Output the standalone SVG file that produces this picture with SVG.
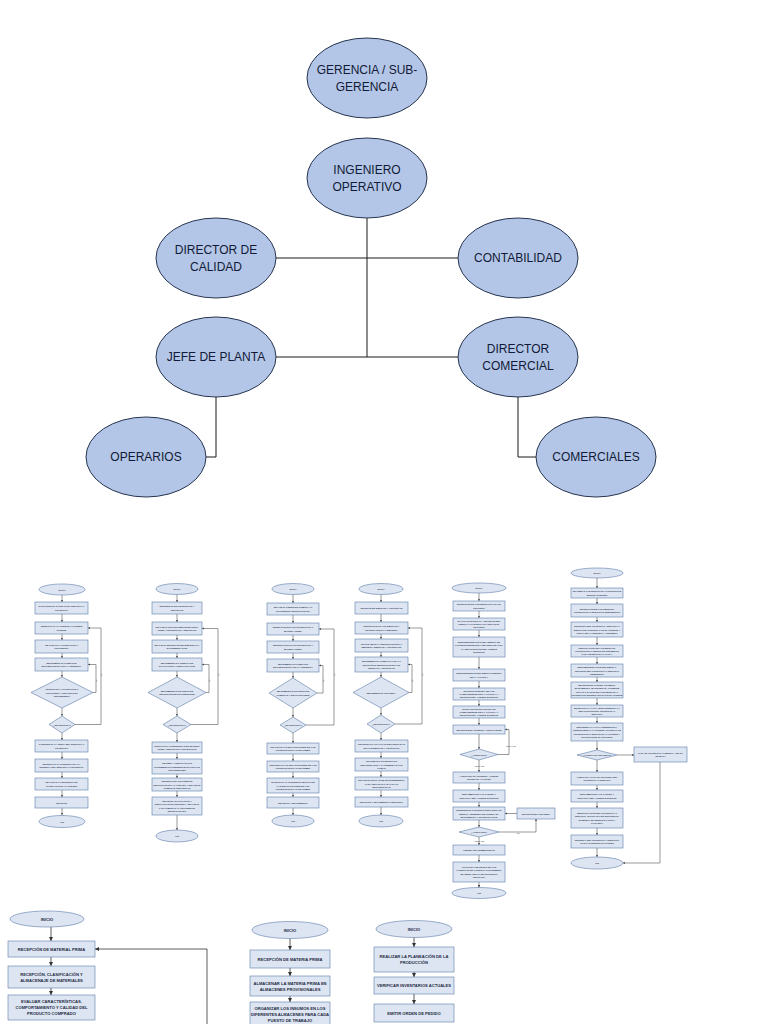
<svg xmlns="http://www.w3.org/2000/svg" width="768" height="1024" viewBox="0 0 768 1024">
<style>
.oe{fill:#b4c6e7;stroke:#26344f;stroke-width:1}
.ot{font-family:"Liberation Sans",Arial,sans-serif;font-size:12px;fill:#111a36;text-anchor:middle;dominant-baseline:central}
.ol{fill:none;stroke:#1a1a1a;stroke-width:1}
.b{fill:#dce5f1;stroke:#5d7aa8;stroke-width:0.6}
.e{fill:#dce5f1;stroke:#5d7aa8;stroke-width:0.6}
.ft{font-family:"Liberation Sans",Arial,sans-serif;font-size:2.3px;font-weight:bold;fill:#2a3550;text-anchor:middle;dominant-baseline:central}
.lt{font-family:"Liberation Sans",Arial,sans-serif;font-size:2px;fill:#444;text-anchor:middle;dominant-baseline:central}
.bt{font-family:"Liberation Sans",Arial,sans-serif;font-size:4.1px;font-weight:bold;fill:#1f2a44;text-anchor:middle;dominant-baseline:central}
.c{fill:none;stroke:#555;stroke-width:0.6}
.cb{fill:none;stroke:#333;stroke-width:0.8}
</style>
<defs>
<marker id="a" viewBox="0 0 6 6" refX="6" refY="3" markerWidth="2.4" markerHeight="2.4" markerUnits="userSpaceOnUse" orient="auto"><path d="M0,0 L6,3 L0,6 z" fill="#444"/></marker>
<marker id="a2" viewBox="0 0 6 6" refX="6" refY="3" markerWidth="4" markerHeight="4" markerUnits="userSpaceOnUse" orient="auto"><path d="M0,0 L6,3 L0,6 z" fill="#333"/></marker>
</defs>
<rect width="768" height="1024" fill="#ffffff"/>

<!-- ORG CHART connectors -->
<g id="org-connectors">
<path class="ol" d="M367,218 V357"/>
<path class="ol" d="M276,258 H458"/>
<path class="ol" d="M276,357 H458"/>
<path class="ol" d="M216,397 V457 H206"/>
<path class="ol" d="M518,397 V457 H536"/>
</g>
<g id="gerencia"><ellipse class="oe" cx="367" cy="78" rx="60" ry="40"/><text class="ot" x="367" y="70">GERENCIA / SUB-</text><text class="ot" x="367" y="87">GERENCIA</text></g>
<g id="ingeniero"><ellipse class="oe" cx="367" cy="178" rx="60" ry="40"/><text class="ot" x="367" y="170">INGENIERO</text><text class="ot" x="367" y="187">OPERATIVO</text></g>
<g id="calidad"><ellipse class="oe" cx="216" cy="258" rx="60" ry="40"/><text class="ot" x="216" y="250">DIRECTOR DE</text><text class="ot" x="216" y="267">CALIDAD</text></g>
<g id="contabilidad"><ellipse class="oe" cx="518" cy="258" rx="60" ry="40"/><text class="ot" x="518" y="258">CONTABILIDAD</text></g>
<g id="jefe"><ellipse class="oe" cx="216" cy="357" rx="60" ry="40"/><text class="ot" x="216" y="357">JEFE DE PLANTA</text></g>
<g id="comercial"><ellipse class="oe" cx="518" cy="357" rx="60" ry="40"/><text class="ot" x="518" y="349">DIRECTOR</text><text class="ot" x="518" y="366">COMERCIAL</text></g>
<g id="operarios"><ellipse class="oe" cx="146" cy="457" rx="60" ry="40"/><text class="ot" x="146" y="457">OPERARIOS</text></g>
<g id="comerciales"><ellipse class="oe" cx="596" cy="457" rx="60" ry="40"/><text class="ot" x="596" y="457">COMERCIALES</text></g>

<!-- FLOWCHART 1 -->
<g id="f1-connectors">
<path class="c" marker-end="url(#a)" d="M62,595 V602"/>
<path class="c" marker-end="url(#a)" d="M62,614 V622"/>
<path class="c" marker-end="url(#a)" d="M62,634 V640"/>
<path class="c" marker-end="url(#a)" d="M62,653 V658"/>
<path class="c" marker-end="url(#a)" d="M62,671 V677"/>
<path class="c" marker-end="url(#a)" d="M62,708 V716"/>
<path class="c" marker-end="url(#a)" d="M62,733 V740"/>
<path class="c" marker-end="url(#a)" d="M62,752 V759"/>
<path class="c" marker-end="url(#a)" d="M62,772 V778"/>
<path class="c" marker-end="url(#a)" d="M62,790 V797"/>
<path class="c" marker-end="url(#a)" d="M62,808 V815"/>
<path class="c" marker-end="url(#a)" d="M93,692.5 H96 V664.5 H88"/>
<path class="c" marker-end="url(#a)" d="M75,724.5 H101 V628 H88"/>
<text class="lt" x="96" y="681" transform="rotate(-90 96 681)">NO</text>
<text class="lt" x="101" y="675" transform="rotate(-90 101 675)">NO</text>
</g>
<g id="f1-inicio"><ellipse class="e" cx="62" cy="589.5" rx="23" ry="5.5"/><text class="ft" x="62" y="589.5">INICIO</text></g>
<g id="f1-n1"><rect class="b" x="35" y="602" width="53" height="12"/><text class="ft" x="61.5" y="606.45">SOLICITUD DE COTIZACIÓN, SERVICIO O</text><text class="ft" x="61.5" y="609.55">PRODUCTO</text></g>
<g id="f1-n2"><rect class="b" x="35" y="622" width="53" height="12"/><text class="ft" x="61.5" y="626.45">IDENTIFICAR AL CLIENTE O POSIBLE</text><text class="ft" x="61.5" y="629.55">CLIENTE</text></g>
<g id="f1-n3"><rect class="b" x="35" y="640" width="53" height="13"/><text class="ft" x="61.5" y="644.95">REALIZAR LA COTIZACIÓN O</text><text class="ft" x="61.5" y="648.05">PROPUESTA</text></g>
<g id="f1-n4"><rect class="b" x="35" y="658" width="53" height="13"/><text class="ft" x="61.5" y="662.95">IMPLEMENTAR FORMATOS</text><text class="ft" x="61.5" y="666.05">ESTABLECIDOS POR LA GERENCIA</text></g>
<g id="f1-d1"><polygon class="b" points="62,677 93,692.5 62,708 31,692.5"/><text class="ft" x="62" y="689.4">VERIFICAR LA COTIZACIÓN O</text><text class="ft" x="62" y="692.5">PROPUESTA Y REALIZAR EL</text><text class="ft" x="62" y="695.6">SEGUIMIENTO</text></g>
<g id="f1-d2"><polygon class="b" points="62,716 75,724.5 62,733 49,724.5"/><text class="ft" x="62" y="724.5">¿SE EFECTÚA?</text></g>
<g id="f1-n5"><rect class="b" x="35" y="740" width="53" height="12"/><text class="ft" x="61.5" y="744.45">CONCRETAR LA VENTA DEL SERVICIO O</text><text class="ft" x="61.5" y="747.55">PRODUCTO</text></g>
<g id="f1-n6"><rect class="b" x="35" y="759" width="53" height="13"/><text class="ft" x="61.5" y="763.95">ENTREGAR AL CLIENTE PARA LA</text><text class="ft" x="61.5" y="767.05">ENTREGA DEL SERVICIO O PRODUCTO</text></g>
<g id="f1-n7"><rect class="b" x="35" y="778" width="53" height="12"/><text class="ft" x="61.5" y="782.45">REALIZAR LA ENCUESTA DE</text><text class="ft" x="61.5" y="785.55">SATISFACCIÓN AL CLIENTE</text></g>
<g id="f1-n8"><rect class="b" x="35" y="797" width="53" height="11"/><text class="ft" x="61.5" y="802.5">REVISIÓN</text></g>
<g id="f1-fin"><ellipse class="e" cx="62" cy="821.5" rx="23" ry="6"/><text class="ft" x="62" y="821.5">FIN</text></g>

<!-- FLOWCHART 2 -->
<g id="f2-connectors">
<path class="c" marker-end="url(#a)" d="M177,594.5 V602"/>
<path class="c" marker-end="url(#a)" d="M177,614 V622"/>
<path class="c" marker-end="url(#a)" d="M177,635 V640"/>
<path class="c" marker-end="url(#a)" d="M177,653 V658"/>
<path class="c" marker-end="url(#a)" d="M177,671 V677"/>
<path class="c" marker-end="url(#a)" d="M177,708 V716"/>
<path class="c" marker-end="url(#a)" d="M177,733 V742"/>
<path class="c" marker-end="url(#a)" d="M177,753 V759"/>
<path class="c" marker-end="url(#a)" d="M177,774 V778"/>
<path class="c" marker-end="url(#a)" d="M177,791 V797"/>
<path class="c" marker-end="url(#a)" d="M177,815 V830"/>
<path class="c" marker-end="url(#a)" d="M206,692.5 H209 V664.5 H202"/>
<path class="c" marker-end="url(#a)" d="M191,724.5 H218 V628.5 H202"/>
<text class="lt" x="209" y="681" transform="rotate(-90 209 681)">NO</text>
<text class="lt" x="218" y="675" transform="rotate(-90 218 675)">NO</text>
</g>
<g id="f2-inicio"><ellipse class="e" cx="177" cy="589" rx="21" ry="5.5"/><text class="ft" x="177" y="589">INICIO</text></g>
<g id="f2-n1"><rect class="b" x="152" y="602" width="50" height="12"/><text class="ft" x="177" y="606.45">NECESIDAD DE PRODUCTOS Y</text><text class="ft" x="177" y="609.55">SERVICIOS</text></g>
<g id="f2-n2"><rect class="b" x="152" y="622" width="50" height="13"/><text class="ft" x="177" y="626.95">REALIZAR PROVISIONES DE MATERIA</text><text class="ft" x="177" y="630.05">PRIMA, PRODUCTOS Y SERVICIOS</text></g>
<g id="f2-n3"><rect class="b" x="152" y="640" width="50" height="13"/><text class="ft" x="177" y="644.95">REALIZAR SELECCIÓN DE MUESTRAS Y</text><text class="ft" x="177" y="648.05">DOCUMENTACIÓN</text></g>
<g id="f2-n4"><rect class="b" x="152" y="658" width="50" height="13"/><text class="ft" x="177" y="662.95">IMPLEMENTAR FORMATO DE</text><text class="ft" x="177" y="666.05">EVALUACIÓN Y REEVALUACIÓN</text></g>
<g id="f2-d1"><polygon class="b" points="177,677 206,692.5 177,708 148,692.5"/><text class="ft" x="177" y="690.95">IMPLEMENTAR PROCESO DE</text><text class="ft" x="177" y="694.05">SELECCIÓN DE PROVEEDORES</text></g>
<g id="f2-d2"><polygon class="b" points="177,716 191,724.5 177,733 163,724.5"/><text class="ft" x="177" y="724.5">¿SE EFECTÚA?</text></g>
<g id="f2-n5"><rect class="b" x="152" y="742" width="50" height="11"/><text class="ft" x="177" y="745.95">VERIFICAR LAS MUESTRAS DE MATERIA</text><text class="ft" x="177" y="749.05">PRIMA, SERVICIOS O PRODUCTOS</text></g>
<g id="f2-n6"><rect class="b" x="152" y="759" width="50" height="15"/><text class="ft" x="177" y="763.4">RECIBIR Y VERIFICAR LOS</text><text class="ft" x="177" y="766.5">DOCUMENTOS PRESENTADOS POR LOS</text><text class="ft" x="177" y="769.6">PROVEEDORES</text></g>
<g id="f2-n7"><rect class="b" x="152" y="778" width="50" height="13"/><text class="ft" x="177" y="781.4">INGRESAR EL PROVEEDOR</text><text class="ft" x="177" y="784.5">SELECCIONADO AL LISTADO Y REALIZAR</text><text class="ft" x="177" y="787.6">COMPRAS PERIÓDICAS</text></g>
<g id="f2-n8"><rect class="b" x="152" y="797" width="50" height="18"/><text class="ft" x="177" y="801.35">REVISIÓN, EVALUACIÓN Y</text><text class="ft" x="177" y="804.45">REEVALUACIÓN PERIÓDICA, REALIZAR</text><text class="ft" x="177" y="807.55">LAS COMPRAS AL PROVEEDOR</text><text class="ft" x="177" y="810.65">SELECCIONADO</text></g>
<g id="f2-fin"><ellipse class="e" cx="177" cy="836" rx="21" ry="6"/><text class="ft" x="177" y="836">FIN</text></g>

<!-- FLOWCHART 3 -->
<g id="f3-connectors">
<path class="c" marker-end="url(#a)" d="M293,594.5 V603"/>
<path class="c" marker-end="url(#a)" d="M293,615 V623"/>
<path class="c" marker-end="url(#a)" d="M293,635 V641"/>
<path class="c" marker-end="url(#a)" d="M293,653 V659"/>
<path class="c" marker-end="url(#a)" d="M293,672 V678"/>
<path class="c" marker-end="url(#a)" d="M293,708 V717"/>
<path class="c" marker-end="url(#a)" d="M293,733 V743"/>
<path class="c" marker-end="url(#a)" d="M293,754 V761"/>
<path class="c" marker-end="url(#a)" d="M293,772 V778"/>
<path class="c" marker-end="url(#a)" d="M293,793 V797"/>
<path class="c" marker-end="url(#a)" d="M293,808 V815"/>
<path class="c" marker-end="url(#a)" d="M317,693 H323 V665.5 H319"/>
<path class="c" marker-end="url(#a)" d="M306,725 H334 V629 H319"/>
<text class="lt" x="323" y="681" transform="rotate(-90 323 681)">NO</text>
<text class="lt" x="334" y="675" transform="rotate(-90 334 675)">NO</text>
</g>
<g id="f3-inicio"><ellipse class="e" cx="293" cy="589" rx="21" ry="5.5"/><text class="ft" x="293" y="589">INICIO</text></g>
<g id="f3-n1"><rect class="b" x="267" y="603" width="52" height="12"/><text class="ft" x="293" y="607.45">REALIZAR ORDEN DE COMPRA AL</text><text class="ft" x="293" y="610.55">PROVEEDOR SELECCIONADO</text></g>
<g id="f3-n2"><rect class="b" x="267" y="623" width="52" height="12"/><text class="ft" x="293" y="627.45">RECEPCIÓN DE LOS PRODUCTOS O</text><text class="ft" x="293" y="630.55">MATERIA PRIMA</text></g>
<g id="f3-n3"><rect class="b" x="267" y="641" width="52" height="12"/><text class="ft" x="293" y="645.45">INSPECCIONAR LOS PRODUCTOS Y</text><text class="ft" x="293" y="648.55">MATERIA PRIMA</text></g>
<g id="f3-n4"><rect class="b" x="267" y="659" width="52" height="13"/><text class="ft" x="293" y="663.95">IMPLEMENTAR FORMATOS</text><text class="ft" x="293" y="667.05">ESTABLECIDOS POR LA GERENCIA</text></g>
<g id="f3-d1"><polygon class="b" points="293,678 317,693 293,708 269,693"/><text class="ft" x="293" y="691.45">IMPLEMENTAR PROCESO DE</text><text class="ft" x="293" y="694.55">COMPRAS Y DEVOLUCIONES</text></g>
<g id="f3-d2"><polygon class="b" points="293,717 306,725 293,733 280,725"/><text class="ft" x="293" y="725">¿SE EFECTÚA?</text></g>
<g id="f3-n5"><rect class="b" x="267" y="743" width="52" height="11"/><text class="ft" x="293" y="746.95">REALIZAR LAS DEVOLUCIONES DE LOS</text><text class="ft" x="293" y="750.05">PRODUCTOS NO CONFORMES</text></g>
<g id="f3-n6"><rect class="b" x="267" y="761" width="52" height="11"/><text class="ft" x="293" y="764.95">REGISTRAR LAS DEVOLUCIONES DE LOS</text><text class="ft" x="293" y="768.05">PRODUCTOS NO CONFORMES</text></g>
<g id="f3-n7"><rect class="b" x="267" y="778" width="52" height="15"/><text class="ft" x="293" y="782.4">NOTIFICAR AL CLIENTE EL MOTIVO DE</text><text class="ft" x="293" y="785.5">LAS DEVOLUCIONES DE LOS</text><text class="ft" x="293" y="788.6">PRODUCTOS NO CONFORMES</text></g>
<g id="f3-n8"><rect class="b" x="267" y="797" width="52" height="11"/><text class="ft" x="293" y="802.5">REVISIÓN Y SEGUIMIENTO</text></g>
<g id="f3-fin"><ellipse class="e" cx="293" cy="821" rx="21" ry="6"/><text class="ft" x="293" y="821">FIN</text></g>

<!-- FLOWCHART 4 -->
<g id="f4-connectors">
<path class="c" marker-end="url(#a)" d="M381,594.5 V602"/>
<path class="c" marker-end="url(#a)" d="M381,614 V622"/>
<path class="c" marker-end="url(#a)" d="M381,634 V639"/>
<path class="c" marker-end="url(#a)" d="M381,652 V657"/>
<path class="c" marker-end="url(#a)" d="M381,672 V677"/>
<path class="c" marker-end="url(#a)" d="M381,708 V715"/>
<path class="c" marker-end="url(#a)" d="M381,733 V740"/>
<path class="c" marker-end="url(#a)" d="M381,752 V758"/>
<path class="c" marker-end="url(#a)" d="M381,771 V777"/>
<path class="c" marker-end="url(#a)" d="M381,790 V797"/>
<path class="c" marker-end="url(#a)" d="M381,807 V815"/>
<path class="c" marker-end="url(#a)" d="M409,692.5 H412 V664.5 H408"/>
<path class="c" marker-end="url(#a)" d="M395,724 H422 V628 H408"/>
<text class="lt" x="412" y="681" transform="rotate(-90 412 681)">NO</text>
<text class="lt" x="422" y="675" transform="rotate(-90 422 675)">NO</text>
</g>
<g id="f4-inicio"><ellipse class="e" cx="381" cy="589" rx="22" ry="5.5"/><text class="ft" x="381" y="589">INICIO</text></g>
<g id="f4-n1"><rect class="b" x="355" y="602" width="53" height="12"/><text class="ft" x="381.5" y="608">REVISIÓN DE EQUIPOS Y VEHÍCULOS</text></g>
<g id="f4-n2"><rect class="b" x="355" y="622" width="53" height="12"/><text class="ft" x="381.5" y="626.45">INSPECCIONAR LOS EQUIPOS Y</text><text class="ft" x="381.5" y="629.55">VEHÍCULOS DE LA EMPRESA</text></g>
<g id="f4-n3"><rect class="b" x="355" y="639" width="53" height="13"/><text class="ft" x="381.5" y="643.95">PROGRAMAR LA INSPECCIÓN DE LA</text><text class="ft" x="381.5" y="647.05">EMPRESA (EQUIPOS Y VEHÍCULOS)</text></g>
<g id="f4-n4"><rect class="b" x="355" y="657" width="53" height="15"/><text class="ft" x="381.5" y="661.4">IMPLEMENTAR FORMATO PARA LA</text><text class="ft" x="381.5" y="664.5">REVISIÓN E INSPECCIÓN DE LOS</text><text class="ft" x="381.5" y="667.6">EQUIPOS Y VEHÍCULOS</text></g>
<g id="f4-d1"><polygon class="b" points="381,677 409,692.5 381,708 353,692.5"/><text class="ft" x="381" y="692.5">IMPLEMENTAR PROCESO</text></g>
<g id="f4-d2"><polygon class="b" points="381,715 395,724 381,733 367,724"/><text class="ft" x="381" y="724">¿SE EFECTÚA?</text></g>
<g id="f4-n5"><rect class="b" x="355" y="740" width="53" height="12"/><text class="ft" x="381.5" y="744.45">REGISTRAR LAS FALLAS ENCONTRADAS</text><text class="ft" x="381.5" y="747.55">EN LOS EQUIPOS Y VEHÍCULOS</text></g>
<g id="f4-n6"><rect class="b" x="355" y="758" width="53" height="13"/><text class="ft" x="381.5" y="761.4">INFORMAR LOS DEFECTOS</text><text class="ft" x="381.5" y="764.5">ENCONTRADOS Y LAS MEDIDAS POR</text><text class="ft" x="381.5" y="767.6">TOMAR</text></g>
<g id="f4-n7"><rect class="b" x="355" y="777" width="53" height="13"/><text class="ft" x="381.5" y="780.4">REALIZAR UN PLAN DE MANTENIMIENTO</text><text class="ft" x="381.5" y="783.5">PARA REPARAR LAS FALLAS</text><text class="ft" x="381.5" y="786.6">ENCONTRADAS</text></g>
<g id="f4-n8"><rect class="b" x="355" y="797" width="53" height="10"/><text class="ft" x="381.5" y="802">REVISIÓN Y SEGUIMIENTO PERIÓDICO</text></g>
<g id="f4-fin"><ellipse class="e" cx="381" cy="821" rx="22" ry="6"/><text class="ft" x="381" y="821">FIN</text></g>

<!-- FLOWCHART 5 -->
<g id="f5-connectors">
<path class="c" marker-end="url(#a)" d="M479,593 V601"/>
<path class="c" marker-end="url(#a)" d="M479,611 V618"/>
<path class="c" marker-end="url(#a)" d="M479,630 V637"/>
<path class="c" marker-end="url(#a)" d="M479,657 V669"/>
<path class="c" marker-end="url(#a)" d="M479,681 V688"/>
<path class="c" marker-end="url(#a)" d="M479,700 V706"/>
<path class="c" marker-end="url(#a)" d="M479,718 V725"/>
<path class="c" marker-end="url(#a)" d="M479,734 V749"/>
<path class="c" marker-end="url(#a)" d="M479,760 V772"/>
<path class="c" marker-end="url(#a)" d="M479,783 V790"/>
<path class="c" marker-end="url(#a)" d="M479,802 V807"/>
<path class="c" marker-end="url(#a)" d="M479,820 V827"/>
<path class="c" marker-end="url(#a)" d="M479,837 V845"/>
<path class="c" marker-end="url(#a)" d="M479,855 V862"/>
<path class="c" marker-end="url(#a)" d="M479,882 V887.5"/>
<path class="c" marker-end="url(#a)" d="M498,754.5 H509 V729.5 H505"/>
<path class="c" marker-end="url(#a)" d="M517,813.5 H505"/>
<path class="c" marker-end="url(#a)" d="M499,832 H536 V819"/>
<text class="lt" x="511" y="746">RECHAZO</text>
<text class="lt" x="479" y="766">ACEPTADO</text>
<text class="lt" x="518" y="832.5">NO</text>
<text class="lt" x="479" y="841">ACEPTADO</text>
</g>
<g id="f5-inicio"><ellipse class="e" cx="479" cy="588" rx="27" ry="5"/><text class="ft" x="479" y="588">INICIO</text></g>
<g id="f5-n1"><rect class="b" x="453" y="601" width="52" height="10"/><text class="ft" x="479" y="604.45">RECEPCIÓN DE LOS EQUIPOS PARA EL</text><text class="ft" x="479" y="607.55">PROCESO</text></g>
<g id="f5-n2"><rect class="b" x="453" y="618" width="52" height="12"/><text class="ft" x="479" y="620.9">EVALUACIÓN INICIAL Y REVISIÓN DEL</text><text class="ft" x="479" y="624">EQUIPO O PARTES PARA INICIAR EL</text><text class="ft" x="479" y="627.1">PROCESO</text></g>
<g id="f5-n3"><rect class="b" x="453" y="637" width="52" height="20"/><text class="ft" x="479" y="642.35">DESPRESURIZACIÓN DEL EQUIPO DE</text><text class="ft" x="479" y="645.45">LOS RECIPIENTES DE ALMACENAJE PARA</text><text class="ft" x="479" y="648.55">LA RECOLECCIÓN DEL AGENTE</text><text class="ft" x="479" y="651.65">EXTINTOR</text></g>
<g id="f5-n4"><rect class="b" x="453" y="669" width="52" height="12"/><text class="ft" x="479" y="673.45">DESPRESURIZAR DEL EQUIPO INTERNO</text><text class="ft" x="479" y="676.55">DE LA VÁLVULA</text></g>
<g id="f5-n5"><rect class="b" x="453" y="688" width="52" height="12"/><text class="ft" x="479" y="690.9">REVISIÓN INTERNA DE LOS</text><text class="ft" x="479" y="694">COMPONENTES DE LA VÁLVULA Y</text><text class="ft" x="479" y="697.1">REVISIÓN DEL AGENTE EXTINTOR</text></g>
<g id="f5-n6"><rect class="b" x="453" y="706" width="52" height="12"/><text class="ft" x="479" y="708.9">EXTRACCIÓN DE TODOS LOS</text><text class="ft" x="479" y="712">COMPONENTES DE LA VÁLVULA Y</text><text class="ft" x="479" y="715.1">REVISIÓN DEL AGENTE EXTINTOR</text></g>
<g id="f5-n7"><rect class="b" x="453" y="725" width="52" height="9"/><text class="ft" x="479" y="729.5">REVISIÓN DEL CILINDRO Y SUS PARTES</text></g>
<g id="f5-d1"><polygon class="b" points="479,749 498,754.5 479,760 460,754.5"/><text class="ft" x="479" y="754.5">¿ACEPTADO?</text></g>
<g id="f5-n8"><rect class="b" x="453" y="772" width="52" height="11"/><text class="ft" x="479" y="775.95">ACEPTADO EL CILINDRO, AGENTE</text><text class="ft" x="479" y="779.05">EXTINTOR Y PARTES</text></g>
<g id="f5-n9"><rect class="b" x="453" y="790" width="52" height="12"/><text class="ft" x="479" y="794.45">ENSAMBLE DE LAS PARTES Y</text><text class="ft" x="479" y="797.55">RECARGA DEL AGENTE EXTINTOR</text></g>
<g id="f5-n10"><rect class="b" x="453" y="807" width="52" height="13"/><text class="ft" x="479" y="810.4">PRESURIZAR CON NITRÓGENO SECO EL</text><text class="ft" x="479" y="813.5">EQUIPO, TENIENDO EN CUENTA EL</text><text class="ft" x="479" y="816.6">MANÓMETRO Y SU REGULADOR</text></g>
<g id="f5-rev"><rect class="b" x="517" y="808" width="38" height="11"/><text class="ft" x="536" y="813.5">REVISIÓN DEL PROCESO</text></g>
<g id="f5-d2"><polygon class="b" points="479,827 499,832 479,837 459,832"/><text class="ft" x="479" y="832">¿ACEPTADO?</text></g>
<g id="f5-n11"><rect class="b" x="453" y="845" width="52" height="10"/><text class="ft" x="479" y="850">PRUEBA DE HERMETICIDAD</text></g>
<g id="f5-n12"><rect class="b" x="453" y="862" width="52" height="20"/><text class="ft" x="479" y="867.35">ADOPTADO REGISTRO EN LOS</text><text class="ft" x="479" y="870.45">FORMATOS DE CONTROL CON NÚMERO</text><text class="ft" x="479" y="873.55">DE SERIE, SELLO DE PRODUCTO</text><text class="ft" x="479" y="876.65">REVISADO</text></g>
<g id="f5-fin"><ellipse class="e" cx="479" cy="893" rx="27" ry="5.5"/><text class="ft" x="479" y="893">FIN</text></g>

<!-- FLOWCHART 6 -->
<g id="f6-connectors">
<path class="c" marker-end="url(#a)" d="M597,578 V588"/>
<path class="c" marker-end="url(#a)" d="M597,598 V604"/>
<path class="c" marker-end="url(#a)" d="M597,617 V622"/>
<path class="c" marker-end="url(#a)" d="M597,637 V645"/>
<path class="c" marker-end="url(#a)" d="M597,657 V664"/>
<path class="c" marker-end="url(#a)" d="M597,677 V682"/>
<path class="c" marker-end="url(#a)" d="M597,698 V705"/>
<path class="c" marker-end="url(#a)" d="M597,717 V723"/>
<path class="c" marker-end="url(#a)" d="M597,741 V750"/>
<path class="c" marker-end="url(#a)" d="M597,760 V772"/>
<path class="c" marker-end="url(#a)" d="M597,785 V790"/>
<path class="c" marker-end="url(#a)" d="M597,802 V808"/>
<path class="c" marker-end="url(#a)" d="M597,828 V835"/>
<path class="c" marker-end="url(#a)" d="M597,848 V857"/>
<path class="c" marker-end="url(#a)" d="M617,755 H634"/>
<path class="c" marker-end="url(#a)" d="M660,762 V863 H623"/>
</g>
<g id="f6-inicio"><ellipse class="e" cx="597" cy="573" rx="26" ry="5"/><text class="ft" x="597" y="573">INICIO</text></g>
<g id="f6-n1"><rect class="b" x="571" y="588" width="52" height="10"/><text class="ft" x="597" y="591.45">INFORMAR LOS SERVICIOS O PRODUCTOS</text><text class="ft" x="597" y="594.55">QUE SE OFRECEN</text></g>
<g id="f6-n2"><rect class="b" x="571" y="604" width="52" height="13"/><text class="ft" x="597" y="608.95">RECEPCIÓN DE LOS EQUIPOS,</text><text class="ft" x="597" y="612.05">PRODUCTOS O SERVICIOS REQUERIDOS</text></g>
<g id="f6-n3"><rect class="b" x="571" y="622" width="52" height="15"/><text class="ft" x="597" y="626.4">REGISTRO DEL PRODUCTO, SERVICIO O</text><text class="ft" x="597" y="629.5">EQUIPO DE CONTROL POR EL CLIENTE Y</text><text class="ft" x="597" y="632.6">FECHA DE LA ENTREGA Y RECIBIDO</text></g>
<g id="f6-n4"><rect class="b" x="571" y="645" width="52" height="12"/><text class="ft" x="597" y="647.9">VERIFICACIÓN DE LOS EQUIPOS,</text><text class="ft" x="597" y="651">PRODUCTOS O SERVICIOS RECIBIDOS</text><text class="ft" x="597" y="654.1">PARA DETECTAR LA FALLA</text></g>
<g id="f6-n5"><rect class="b" x="571" y="664" width="52" height="13"/><text class="ft" x="597" y="667.4">DESPRESURIZACIÓN DEL EQUIPO,</text><text class="ft" x="597" y="670.5">REVISIÓN DEL PRODUCTO O SERVICIO</text><text class="ft" x="597" y="673.6">REQUERIDO</text></g>
<g id="f6-n6"><rect class="b" x="571" y="682" width="52" height="16"/><text class="ft" x="597" y="685.35">REVISIÓN DE PARTES, CILINDRO,</text><text class="ft" x="597" y="688.45">MANÓMETRO, MANGUERAS, POSIBLES</text><text class="ft" x="597" y="691.55">FUGAS O DAÑOS EN LOS EQUIPOS O</text><text class="ft" x="597" y="694.65">PRODUCTOS ENTREGADOS POR EL CLIENTE</text></g>
<g id="f6-n7"><rect class="b" x="571" y="705" width="52" height="12"/><text class="ft" x="597" y="707.9">DETECTAR LA FALLA QUE PRESENTA LA</text><text class="ft" x="597" y="711">DEVOLUCIÓN DEL PRODUCTO O</text><text class="ft" x="597" y="714.1">SERVICIO</text></g>
<g id="f6-n8"><rect class="b" x="571" y="723" width="52" height="18"/><text class="ft" x="597" y="727.35">DESCRIBIR LA FALLA PRESENTADA,</text><text class="ft" x="597" y="730.45">PRESUPUESTO AL CLIENTE, CUANDO LOS</text><text class="ft" x="597" y="733.55">PRODUCTOS O SERVICIOS AL CLIENTE Y</text><text class="ft" x="597" y="736.65">SOLUCIÓN DE EL PROCESO</text></g>
<g id="f6-d1"><polygon class="b" points="597,750 617,755 597,760 577,755"/><text class="ft" x="597" y="755">¿ACEPTA EL PROCESO?</text></g>
<g id="f6-baja"><rect class="b" x="634" y="747" width="53" height="15"/><text class="ft" x="660.5" y="752.95">PASA EL PRODUCTO O EQUIPO Y SE DA</text><text class="ft" x="660.5" y="756.05">DE BAJA</text></g>
<g id="f6-n9"><rect class="b" x="571" y="772" width="52" height="13"/><text class="ft" x="597" y="776.95">ACEPTADO, PASA EL PROCESO DEL</text><text class="ft" x="597" y="780.05">PRODUCTO O SERVICIO</text></g>
<g id="f6-n10"><rect class="b" x="571" y="790" width="52" height="12"/><text class="ft" x="597" y="794.45">ENSAMBLE DE LAS PARTES Y</text><text class="ft" x="597" y="797.55">RECARGA DEL AGENTE EXTINTOR</text></g>
<g id="f6-n11"><rect class="b" x="571" y="808" width="52" height="20"/><text class="ft" x="597" y="813.35">IDENTIFICACIÓN DEL PRODUCTO O</text><text class="ft" x="597" y="816.45">SERVICIO, ROTULADO DE SEGURIDAD,</text><text class="ft" x="597" y="819.55">ETIQUETA DE IDENTIFICACIÓN Y</text><text class="ft" x="597" y="822.65">GARANTÍA</text></g>
<g id="f6-n12"><rect class="b" x="571" y="835" width="52" height="13"/><text class="ft" x="597" y="839.95">ENTREGA DEL PRODUCTO O SERVICIO</text><text class="ft" x="597" y="843.05">CON LAS ESPECIFICACIONES</text></g>
<g id="f6-fin"><ellipse class="e" cx="597" cy="863" rx="26" ry="6"/><text class="ft" x="597" y="863">FIN</text></g>

<!-- BOTTOM LEFT -->
<g id="bl-connectors">
<path class="cb" marker-end="url(#a2)" d="M51,927 V941"/>
<path class="cb" marker-end="url(#a2)" d="M51,957 V966"/>
<path class="cb" marker-end="url(#a2)" d="M51,988 V995"/>
<path class="cb" marker-end="url(#a2)" d="M207,1024 V949 H95"/>
</g>
<g id="bl-inicio"><ellipse class="e" cx="47" cy="919" rx="37" ry="8"/><text class="bt" x="47" y="919">INICIO</text></g>
<g id="bl-n1"><rect class="b" x="8" y="941" width="87" height="16"/><text class="bt" x="51.5" y="949">RECEPCIÓN DE MATERIAL PRIMA</text></g>
<g id="bl-n2"><rect class="b" x="8" y="966" width="87" height="22"/><text class="bt" x="51.5" y="974">RECEPCIÓN, CLASIFICACIÓN Y</text><text class="bt" x="51.5" y="980">ALMACENAJE DE MATERIALES</text></g>
<g id="bl-n3"><rect class="b" x="8" y="995" width="87" height="25"/><text class="bt" x="51.5" y="1001.5">EVALUAR CARACTERÍSTICAS,</text><text class="bt" x="51.5" y="1007.5">COMPORTAMIENTO Y CALIDAD DEL</text><text class="bt" x="51.5" y="1013.5">PRODUCTO COMPRADO</text></g>

<!-- BOTTOM MIDDLE -->
<g id="bm-connectors">
<path class="cb" marker-end="url(#a2)" d="M290,938.5 V950"/>
<path class="cb" marker-end="url(#a2)" d="M290,968 V976"/>
<path class="cb" marker-end="url(#a2)" d="M290,996 V1002"/>
</g>
<g id="bm-inicio"><ellipse class="e" cx="290" cy="930" rx="38" ry="8.5"/><text class="bt" x="290" y="930">INICIO</text></g>
<g id="bm-n1"><rect class="b" x="250" y="950" width="80" height="18"/><text class="bt" x="290" y="959">RECEPCIÓN DE MATERIA PRIMA</text></g>
<g id="bm-n2"><rect class="b" x="250" y="976" width="80" height="20"/><text class="bt" x="290" y="983">ALMACENAR LA MATERIA PRIMA EN</text><text class="bt" x="290" y="989">ALMACENES PROVISIONALES</text></g>
<g id="bm-n3"><rect class="b" x="250" y="1002" width="80" height="24"/><text class="bt" x="290" y="1008">ORGANIZAR LOS INSUMOS EN LOS</text><text class="bt" x="290" y="1014">DIFERENTES ALMACENES PARA CADA</text><text class="bt" x="290" y="1020">PUESTO DE TRABAJO</text></g>

<!-- BOTTOM RIGHT -->
<g id="br-connectors">
<path class="cb" marker-end="url(#a2)" d="M414,937.5 V947"/>
<path class="cb" marker-end="url(#a2)" d="M414,972 V977"/>
<path class="cb" marker-end="url(#a2)" d="M414,994 V1004"/>
</g>
<g id="br-inicio"><ellipse class="e" cx="414" cy="929" rx="38" ry="8.5"/><text class="bt" x="414" y="929">INICIO</text></g>
<g id="br-n1"><rect class="b" x="374" y="947" width="80" height="25"/><text class="bt" x="414" y="956.5">REALIZAR LA PLANEACIÓN DE LA</text><text class="bt" x="414" y="962.5">PRODUCCIÓN</text></g>
<g id="br-n2"><rect class="b" x="374" y="977" width="80" height="17"/><text class="bt" x="414" y="985.5">VERIFICAR INVENTARIOS ACTUALES</text></g>
<g id="br-n3"><rect class="b" x="374" y="1004" width="80" height="18"/><text class="bt" x="414" y="1013">EMITIR ORDEN DE PEDIDO</text></g>
</svg>
